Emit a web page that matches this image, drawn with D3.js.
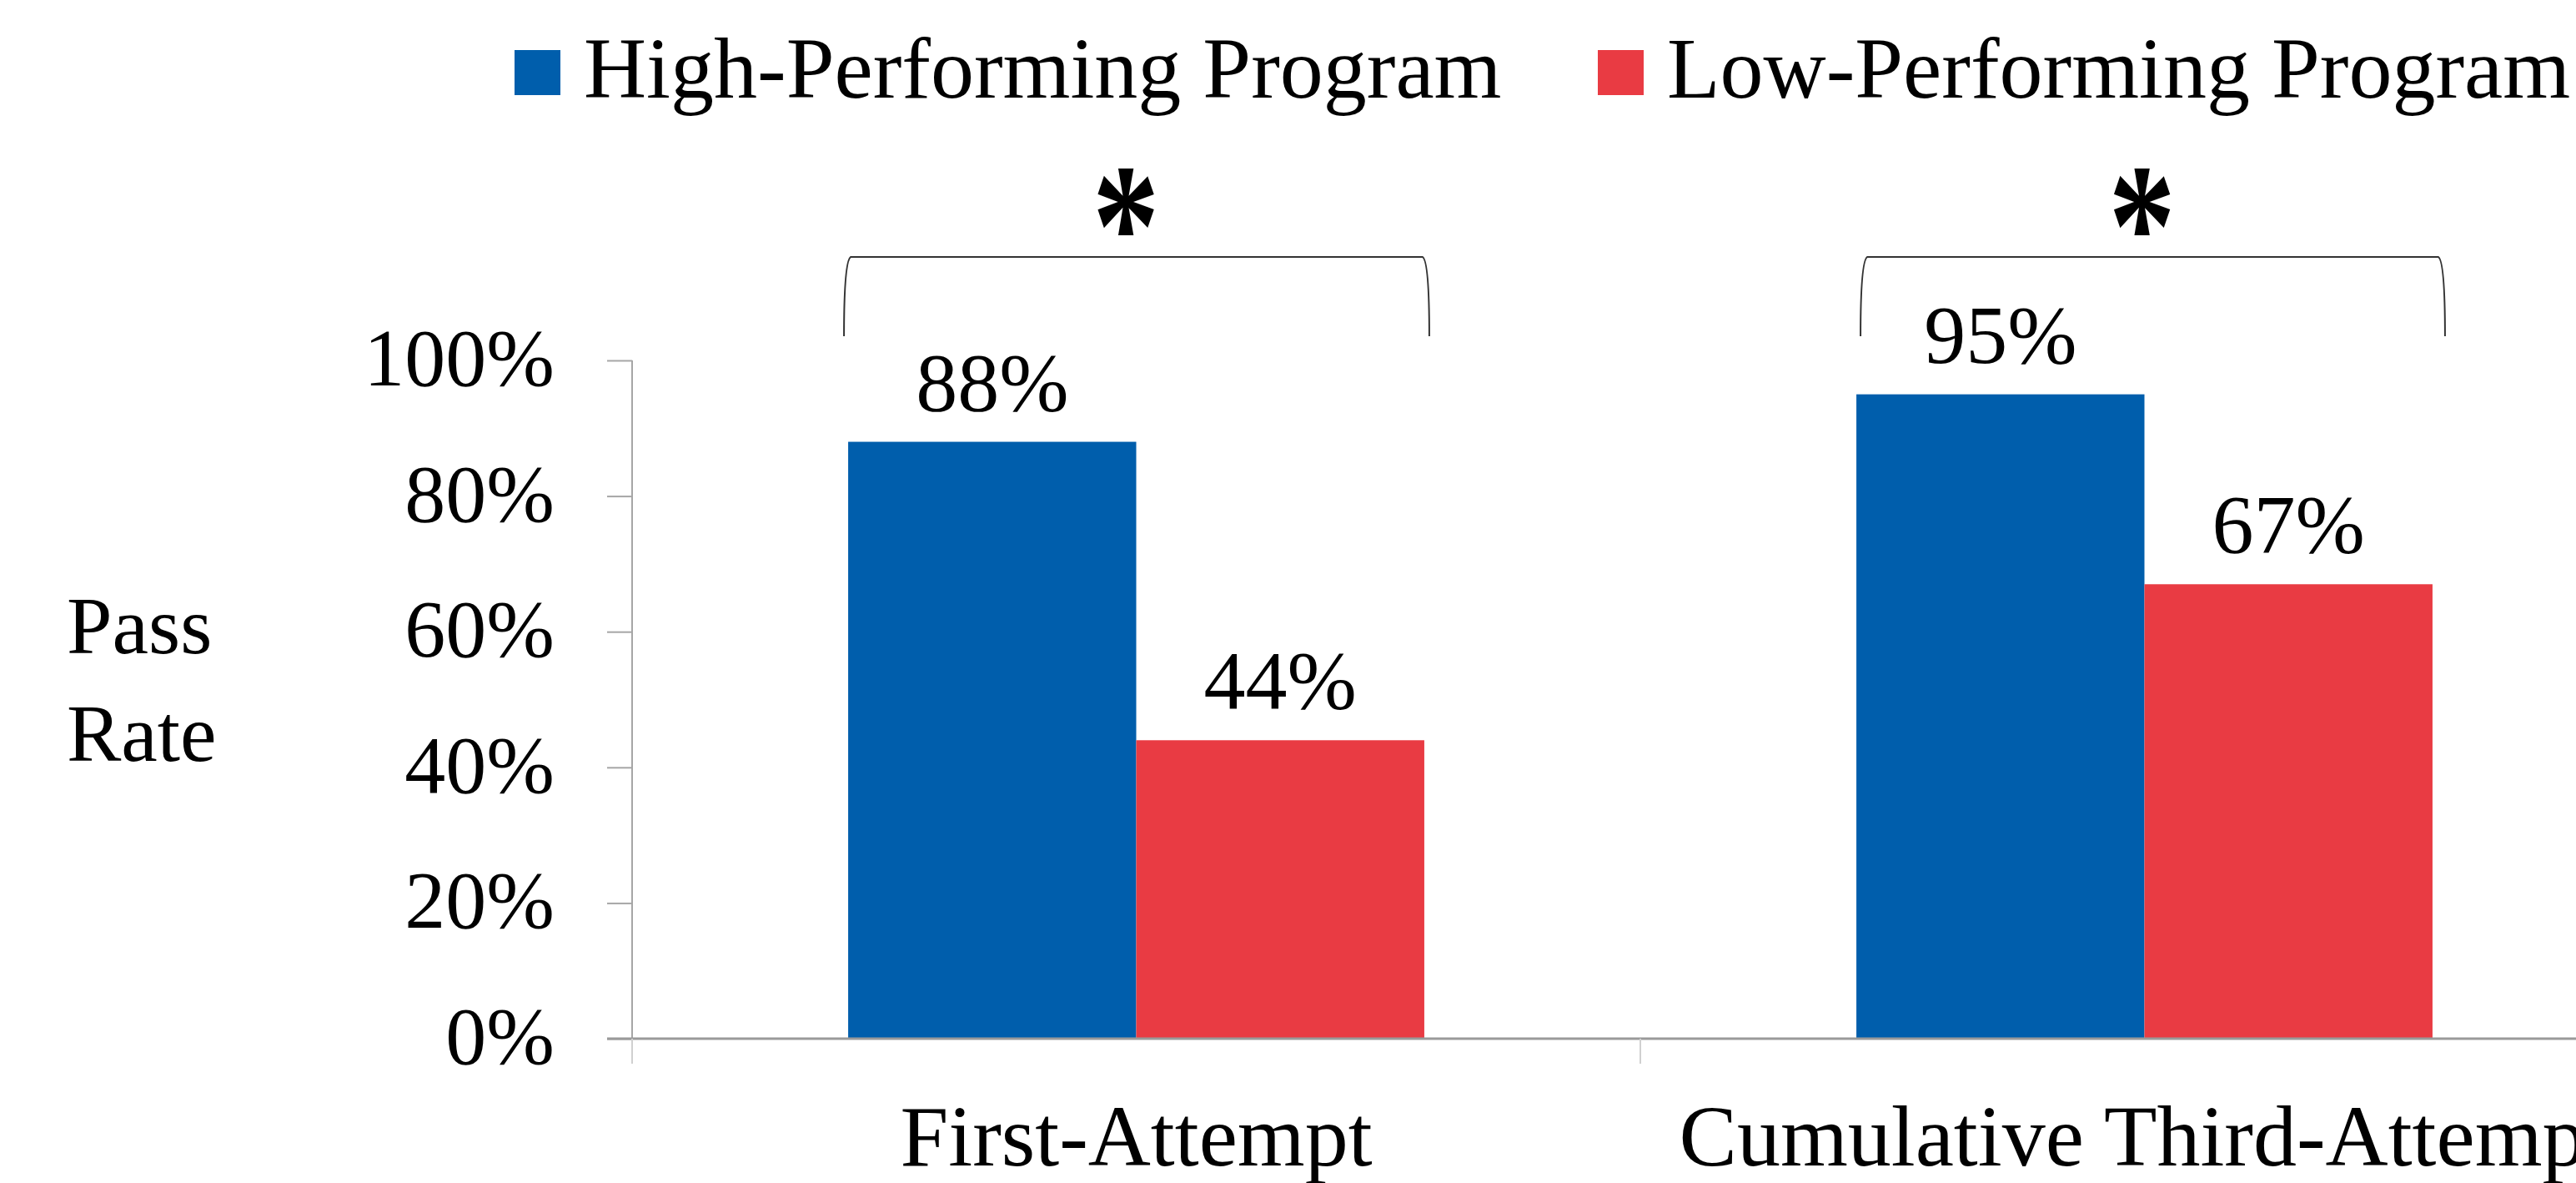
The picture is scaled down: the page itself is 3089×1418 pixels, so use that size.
<!DOCTYPE html>
<html>
<head>
<meta charset="utf-8">
<script src="https://cdn.jsdelivr.net/npm/d3@7"></script>
<style>
  html, body { margin: 0; padding: 0; background: #ffffff; }
  svg { display: block; }
  text { font-family: "Liberation Serif", "Times New Roman", serif; fill: #000; }
</style>
</head>
<body>
<svg id="chart" width="3089" height="1418"></svg>
<script>
// ---- data ----
const categories = ["First-Attempt", "Cumulative Third-Attempt"];
const seriesNames = ["High-Performing Program", "Low-Performing Program"];
const seriesColors = ["#005EAC", "#E93B43"];
const highValues = [0.88, 0.95];
const lowValues = [0.44, 0.67];
const yTicks = [0, 0.2, 0.4, 0.6, 0.8, 1.0];
const yAxisTitle = ["Pass", "Rate"];
const significance = ["*", "*"];

const seriesValues = [highValues, lowValues];

// ---- layout ----
const W = 3089, H = 1418;
const plotLeft = 758, plotTop = 432, plotBottom = 1245;
const categoryStep = 1209;

const svg = d3.select("#chart");
svg.append("rect").attr("width", W).attr("height", H).attr("fill", "#fff");

const x = d3.scaleBand()
  .domain(categories)
  .range([plotLeft, plotLeft + categoryStep * categories.length])
  .paddingInner(0).paddingOuter(0);

const xs = d3.scaleBand()
  .domain(seriesNames)
  .range([0, x.bandwidth()])
  .paddingInner(0).paddingOuter(0.75);

const y = d3.scaleLinear().domain([0, 1]).range([plotBottom, plotTop]);

// ---- y axis ----
const yAxis = d3.axisLeft(y)
  .tickValues(yTicks)
  .tickSize(30)
  .tickPadding(63)
  .tickFormat(d3.format(".0%"));

const gy = svg.append("g")
  .attr("transform", `translate(${plotLeft},0)`)
  .call(yAxis);
gy.select(".domain").attr("stroke", "#a6a6a6").attr("stroke-width", 2)
  .attr("d", `M0,${plotTop}V${plotBottom}`);
gy.selectAll(".tick line").attr("stroke", "#a6a6a6").attr("stroke-width", 2);
gy.selectAll(".tick text")
  .attr("font-family", "Liberation Serif")
  .attr("font-size", 98)
  .attr("fill", "#000")
  .attr("dy", "0.3em");

// ---- bars ----
const groups = svg.append("g").selectAll("g")
  .data(categories)
  .join("g")
  .attr("transform", d => `translate(${x(d)},0)`);

seriesNames.forEach((s, si) => {
  groups.append("rect")
    .attr("x", xs(s))
    .attr("width", xs.bandwidth())
    .attr("y", (d, i) => y(seriesValues[si][i]))
    .attr("height", (d, i) => y(0) - y(seriesValues[si][i]))
    .attr("fill", seriesColors[si]);

  groups.append("text")
    .attr("x", xs(s) + xs.bandwidth() / 2)
    .attr("y", (d, i) => y(seriesValues[si][i]) - 38)
    .attr("text-anchor", "middle")
    .attr("font-size", 100)
    .text((d, i) => d3.format(".0%")(seriesValues[si][i]));
});

// ---- x axis ----
const xAxis = d3.axisBottom(x)
  .tickSize(0)
  .tickPadding(0)
  .tickFormat(d => d);
const gx = svg.append("g")
  .attr("transform", `translate(0,${plotBottom})`)
  .call(xAxis);
gx.select(".domain").attr("stroke", "#9a9a9a").attr("stroke-width", 3)
  .attr("d", `M${plotLeft - 30},0H${W + 200}`);
gx.selectAll(".tick text")
  .attr("font-family", "Liberation Serif")
  .attr("font-size", 104)
  .attr("fill", "#000")
  .attr("dy", 0)
  .attr("y", 152);

// category separator ticks
const boundaries = categories.map(c => x(c)).concat([x(categories[categories.length - 1]) + x.bandwidth()]);
svg.append("g").selectAll("line")
  .data(boundaries)
  .join("line")
  .attr("x1", d => d).attr("x2", d => d)
  .attr("y1", plotBottom).attr("y2", plotBottom + 30)
  .attr("stroke", "#d0d0d0").attr("stroke-width", 2);

// ---- y axis title ----
svg.append("g").selectAll("text")
  .data(yAxisTitle)
  .join("text")
  .attr("x", 80)
  .attr("y", (d, i) => 783 + i * 129)
  .attr("font-size", 98)
  .text(d => d);

// ---- significance brackets ----
const brk = svg.append("g");
categories.forEach((c, i) => {
  const x0 = x(c) + xs(seriesNames[0]) - 5 + i * 10;
  const x1 = x(c) + xs(seriesNames[1]) + xs.bandwidth() + 6 + i * 9;
  const top = 308, bot = 403;
  brk.append("path")
    .attr("d", `M${x0},${bot} C${x0},350 ${x0 + 2},312 ${x0 + 8},${top} L${x1 - 8},${top} C${x1 - 2},312 ${x1},350 ${x1},${bot}`)
    .attr("fill", "none")
    .attr("stroke", "#333")
    .attr("stroke-width", 2);
  const cx = (x0 + x1) / 2 - 13;
  brk.append("text")
    .attr("transform", `translate(${cx},342) scale(0.85,1.12)`)
    .attr("text-anchor", "middle")
    .attr("font-weight", "bold")
    .attr("font-size", 190)
    .text(significance[i]);
});

// ---- legend ----
const legendX = [617, 1916];
const leg = svg.append("g");
seriesNames.forEach((s, i) => {
  leg.append("rect")
    .attr("x", legendX[i]).attr("y", 60)
    .attr("width", 55).attr("height", 54)
    .attr("fill", seriesColors[i]);
  leg.append("text")
    .attr("x", legendX[i] + 83)
    .attr("y", 117)
    .attr("font-size", 104)
    .text(s);
});
</script>
</body>
</html>
